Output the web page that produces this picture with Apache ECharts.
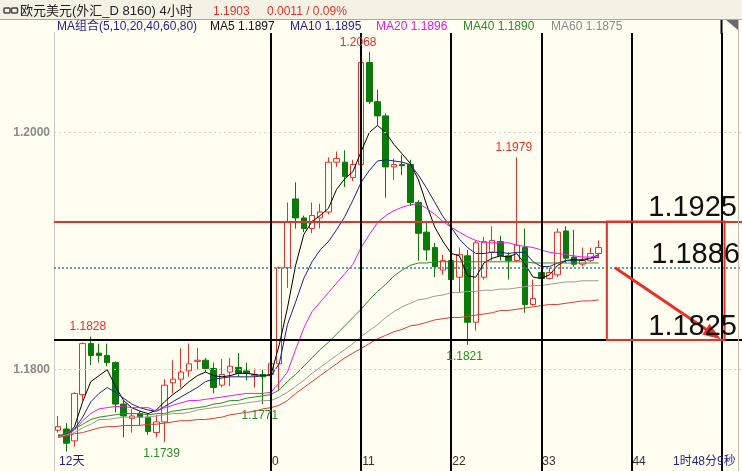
<!DOCTYPE html>
<html><head><meta charset="utf-8">
<script src="https://cdn.jsdelivr.net/npm/echarts@6/dist/echarts.min.js"></script>
<style>html,body{margin:0;padding:0;background:#FFFEF0;}#c{width:742px;height:471px;}</style>
</head><body><div id="c"></div><script>
// ---- data ----
const categories = [];
for (let i = -26; i <= 57; i++) categories.push(String(i));
const tickPositions = ['-26', '0', '11', '22', '33', '44'];
const tickTexts = ['12天', '0', '11', '22', '33', '44'];
const separators = ['0', '11', '22', '33', '44', '55'];
const yTickValues = [1.18, 1.2];

const openP = [1.1749,1.1750,1.1740,1.1779,1.1822,1.1814,1.1812,1.1806,1.1771,1.1759,1.1763,1.1760,1.1747,1.1756,1.1789,1.1792,1.1799,1.1807,1.1808,1.1801,1.1787,1.1798,1.1802,1.1799,1.1795,1.1796,
 1.1796,1.1805,1.1886,1.1944,1.1928,1.1919,1.1928,1.1933,1.1975,1.1975,1.1962,1.1973,1.2059,1.2026,1.2014,1.1971,1.1973,1.1973,1.1941,1.1916,1.1903,1.1884,1.1892,1.1878,1.1896,1.1840,1.1878,1.1899,1.1908,1.1896,1.1892,1.1903,1.1855,1.1882,1.1877,1.1880,1.1917,1.1895,1.1889,1.1892,1.1898];
const closeP = [1.1752,1.1738,1.1780,1.1822,1.1812,1.1812,1.1806,1.1771,1.1761,1.1761,1.1760,1.1748,1.1756,1.1787,1.1792,1.1798,1.1805,1.1808,1.1801,1.1785,1.1796,1.1803,1.1797,1.1797,1.1796,1.1794,
 1.1805,1.1886,1.1925,1.1928,1.1919,1.1930,1.1933,1.1975,1.1978,1.1963,1.1973,1.2059,1.2026,1.2014,1.1971,1.1973,1.1972,1.1941,1.1915,1.1901,1.1887,1.1892,1.1876,1.1897,1.1840,1.1907,1.1908,1.1909,1.1896,1.1892,1.1905,1.1855,1.1860,1.1877,1.1882,1.1916,1.1894,1.1889,1.1892,1.1898,1.1903];
const lowP = [1.1747,1.1731,1.1735,1.1774,1.1804,1.1806,1.1803,1.1764,1.1743,1.1747,1.1753,1.1745,1.1743,1.1739,1.1780,1.1785,1.1794,1.1800,1.1798,1.1780,1.1785,1.1786,1.1794,1.1791,1.1785,1.1771,
 1.1791,1.1783,1.1869,1.1919,1.1916,1.1915,1.1919,1.1931,1.1971,1.1954,1.1959,1.1971,1.2024,1.2006,1.1945,1.1960,1.1964,1.1938,1.1892,1.1892,1.1878,1.1880,1.1875,1.1865,1.1821,1.1833,1.1876,1.1892,1.1892,1.1876,1.1891,1.1848,1.1854,1.1876,1.1876,1.1878,1.1890,1.1887,1.1887,1.1891,1.1894];
const highP = [1.1761,1.1755,1.1781,1.1823,1.1828,1.1822,1.1822,1.1807,1.1774,1.1767,1.1765,1.1763,1.1762,1.1792,1.1808,1.1818,1.1822,1.1818,1.1810,1.1806,1.1809,1.1810,1.1814,1.1806,1.1801,1.1800,
 1.1806,1.1887,1.1941,1.1958,1.1930,1.1941,1.1940,1.1979,1.1984,1.1985,1.1977,1.2063,1.2068,1.2036,1.2016,1.1978,1.1981,1.1977,1.1943,1.1924,1.1907,1.1897,1.1897,1.1903,1.1901,1.1909,1.1912,1.1921,1.1913,1.1899,1.1979,1.1919,1.1876,1.1884,1.1886,1.1919,1.1921,1.1918,1.1903,1.1903,1.1909];

const ma5 = [1.1745,1.1744,1.1752,1.1773,1.1790,1.1795,1.1800,1.1786,1.1774,1.1768,1.1765,1.1763,1.1766,1.1773,1.1779,1.1784,1.1790,1.1795,1.1798,1.1795,1.1794,1.1795,1.1797,1.1797,1.1796,1.1795,
 1.1796,1.1821,1.1852,1.1888,1.1914,1.1925,1.1930,1.1936,1.1952,1.1961,1.1967,1.1984,1.2000,1.2006,1.2000,1.1990,1.1982,1.1974,1.1960,1.1939,1.1920,1.1908,1.1898,1.1896,1.1879,1.1878,1.1890,1.1894,1.1896,1.1895,1.1898,1.1889,1.1878,1.1877,1.1880,1.1888,1.1892,1.1893,1.1892,1.1894,1.1897];
const ma10 = [1.1744,1.1745,1.1750,1.1760,1.1773,1.1780,1.1785,1.1781,1.1776,1.1771,1.1768,1.1766,1.1765,1.1769,1.1773,1.1777,1.1781,1.1785,1.1790,1.1792,1.1793,1.1794,1.1794,1.1794,1.1794,1.1795,
 1.1795,1.1805,1.1838,1.1857,1.1877,1.1891,1.1901,1.1908,1.1918,1.1929,1.1943,1.1958,1.1968,1.1976,1.1977,1.1976,1.1975,1.1973,1.1964,1.1953,1.1941,1.1929,1.1920,1.1910,1.1903,1.1898,1.1898,1.1899,1.1899,1.1898,1.1899,1.1899,1.1891,1.1887,1.1887,1.1890,1.1892,1.1892,1.1893,1.1894,1.1895];
const ma20 = [1.1744,1.1745,1.1749,1.1757,1.1763,1.1767,1.1768,1.1769,1.1769,1.1768,1.1768,1.1768,1.1765,1.1768,1.1770,1.1772,1.1774,1.1774,1.1775,1.1776,1.1777,1.1778,1.1779,1.1780,1.1780,1.1780,
 1.1781,1.1789,1.1798,1.1817,1.1835,1.1849,1.1857,1.1865,1.1873,1.1881,1.1889,1.1903,1.1914,1.1924,1.1930,1.1934,1.1937,1.1939,1.1940,1.1936,1.1931,1.1925,1.1920,1.1916,1.1912,1.1909,1.1907,1.1907,1.1907,1.1907,1.1905,1.1904,1.1903,1.1901,1.1899,1.1898,1.1897,1.1896,1.1895,1.1895,1.1896];
const ma40 = [1.1744,1.1747,1.1750,1.1754,1.1758,1.1760,1.1761,1.1762,1.1763,1.1763,1.1763,1.1762,1.1763,1.1763,1.1765,1.1766,1.1767,1.1768,1.1769,1.1771,1.1772,1.1774,1.1774,1.1776,1.1777,1.1778,
 1.1779,1.1783,1.1790,1.1796,1.1803,1.1810,1.1817,1.1823,1.1830,1.1837,1.1844,1.1851,1.1859,1.1866,1.1872,1.1879,1.1884,1.1888,1.1890,1.1890,1.1891,1.1891,1.1891,1.1891,1.1891,1.1891,1.1891,1.1891,1.1891,1.1891,1.1891,1.1891,1.1890,1.1890,1.1890,1.1890,1.1890,1.1890,1.1890,1.1890,1.1890];
const ma60 = [1.1743,1.1745,1.1747,1.1751,1.1754,1.1758,1.1758,1.1759,1.1760,1.1760,1.1760,1.1760,1.1761,1.1762,1.1763,1.1763,1.1764,1.1766,1.1767,1.1768,1.1769,1.1770,1.1771,1.1772,1.1773,1.1774,
 1.1774,1.1777,1.1781,1.1786,1.1791,1.1797,1.1802,1.1807,1.1812,1.1817,1.1822,1.1828,1.1833,1.1838,1.1844,1.1849,1.1853,1.1856,1.1859,1.1860,1.1862,1.1863,1.1865,1.1865,1.1866,1.1866,1.1867,1.1867,1.1868,1.1868,1.1869,1.1870,1.1871,1.1871,1.1872,1.1873,1.1874,1.1874,1.1875,1.1875,1.1875];
const ma80 = [1.1743,1.1744,1.1746,1.1747,1.1749,1.1751,1.1752,1.1752,1.1753,1.1753,1.1753,1.1754,1.1754,1.1755,1.1756,1.1757,1.1757,1.1758,1.1758,1.1759,1.1760,1.1762,1.1763,1.1764,1.1765,1.1767,
 1.1768,1.1770,1.1774,1.1780,1.1785,1.1790,1.1795,1.1800,1.1805,1.1810,1.1814,1.1818,1.1822,1.1826,1.1829,1.1832,1.1834,1.1837,1.1838,1.1840,1.1842,1.1843,1.1844,1.1844,1.1845,1.1846,1.1847,1.1848,1.1850,1.1850,1.1851,1.1852,1.1853,1.1854,1.1855,1.1855,1.1856,1.1857,1.1858,1.1858,1.1859];

const peakLabels = [
  { at: '-22', value: 1.1828, high: true },
  { at: '11', value: 1.2068, high: true },
  { at: '30', value: 1.1979, high: true },
  { at: '24', value: 1.1821, high: false },
  { at: '-13', value: 1.1739, high: false },
  { at: '-1', value: 1.1771, high: false }
];
const levels = [1.1925, 1.1886, 1.1825];
const legendItems = [
  { text: 'MA组合(5,10,20,40,60,80)', color: '#1f1f8f' },
  { text: 'MA5 1.1897', color: '#111111' },
  { text: 'MA10 1.1895', color: '#1f1f8f' },
  { text: 'MA20 1.1896', color: '#e020e0' },
  { text: 'MA40 1.1890', color: '#2d8a2d' },
  { text: 'MA60 1.1875', color: '#8c8c8c' }
];
const legendX = [57, 210, 290, 376, 463, 551];

// ---- build ----
const RED = '#e8302a', GREEN = '#0b7a0b';
const kData = openP.map((o, k) => [o, closeP[k], lowP[k], highP[k]]);
const labelMap = {};
tickPositions.forEach((p, k) => labelMap[p] = tickTexts[k]);

const chart = echarts.init(document.getElementById('c'), null, { renderer: 'canvas' });
const FONT = '"Liberation Sans", Arial, "Noto Sans CJK SC", sans-serif';

function maSeries(name, data, color, extra) {
  return Object.assign({ name, type: 'line', data, showSymbol: false, symbol: 'none', z: 3,
    lineStyle: { width: 1, color }, silent: true, animation: false }, extra || {});
}

const guideLines = {
  silent: true, symbol: ['none', 'none'], animation: false, label: { show: false }, precision: 4,
  data: [
    { yAxis: yTickValues[1], lineStyle: { color: '#cfcfcf', width: 1, type: [2, 3] } },
    { yAxis: yTickValues[0], lineStyle: { color: '#cfcfcf', width: 1, type: [2, 3] } },
    { yAxis: levels[1], lineStyle: { color: '#2a8a8a', width: 1.5, type: [2, 2] } },
    { yAxis: levels[0], lineStyle: { color: RED, width: 2, type: 'solid' } },
    { yAxis: levels[2], lineStyle: { color: '#000', width: 2, type: 'solid' } }
  ].concat(separators.map(s => ({ xAxis: s, lineStyle: { color: '#000', width: 2, type: 'solid' } })))
  .concat([[
    { coord: ['42', levels[1]], symbol: 'none', lineStyle: { color: RED, width: 3, type: 'solid' } },
    { coord: ['54', 1.1830], symbol: 'triangle', symbolSize: [13, 18] }
  ]])
};

const option = {
  backgroundColor: '#FFFEF0',
  animation: false,
  textStyle: { fontFamily: FONT },
  grid: { left: 54, right: 0, top: 33, bottom: 0, containLabel: false },
  xAxis: {
    type: 'category', data: categories, boundaryGap: true,
    axisLine: { show: false }, axisTick: { show: false }, splitLine: { show: false },
    axisLabel: {
      inside: true, interval: 0, align: 'left', margin: 3, padding: [0, 0, 0, 1],
      fontSize: 12, fontFamily: FONT,
      formatter: v => labelMap[v] || '',
      color: v => v === '-26' ? '#1f1f8f' : '#333333'
    }
  },
  yAxis: {
    type: 'value', min: 1.17146, max: 1.20839, scale: true,
    splitLine: { show: false },
    axisLine: { show: true, lineStyle: { color: '#c8c8c8', width: 1 } },
    axisTick: { show: false },
    axisLabel: { customValues: yTickValues, formatter: v => v.toFixed(4), color: '#8a8a8a',
      fontWeight: 'bold', fontSize: 12, margin: 4, fontFamily: FONT }
  },
  series: [
    {
      name: 'K', type: 'candlestick', data: kData, barWidth: 6, z: 2,
      itemStyle: { color: 'transparent', color0: GREEN, borderColor: RED, borderColor0: GREEN, borderWidth: 1 },
      markPoint: {
        silent: true, animation: false, symbol: 'circle', symbolSize: 1, precision: 4,
        itemStyle: { color: 'transparent' },
        data: peakLabels.map(p => ({
          coord: [p.at, p.value],
          label: { show: true, position: p.high ? 'top' : 'bottom', distance: p.high ? 3 : 5,
            offset: [-3, 0], formatter: p.value.toFixed(4), fontSize: 12, fontFamily: FONT,
            color: p.high ? RED : '#2d8a2d' }
        }))
      }
    },
    maSeries('MA5', ma5, '#000000', { markLine: guideLines }),
    maSeries('MA10', ma10, '#1f1f8f'),
    maSeries('MA20', ma20, '#e020e0'),
    maSeries('MA40', ma40, '#2d8a2d'),
    maSeries('MA60', ma60, '#9a9a9a'),
    maSeries('MA80', ma80, '#e03a30')
  ]
};
chart.setOption(option);

// ---- overlay graphics (positions from the chart's scales) ----
const pt = (c, v) => chart.convertToPixel({ gridIndex: 0 }, [c, v]);
const boxA = pt('41', levels[0]);
const boxB = pt('55', levels[2]);
const g = [];
// header
g.push({ type: 'rect', shape: { x: 0, y: 0, width: 742, height: 20 }, style: { fill: '#F4F2E4' }, z: 10 });
g.push({ type: 'line', shape: { x1: 0, y1: 19.5, x2: 742, y2: 19.5 }, style: { stroke: '#a9a89c', lineWidth: 1 }, z: 11 });
g.push({ type: 'rect', shape: { x: 4, y: 8, width: 6, height: 5, r: 1 }, style: { fill: 'none', stroke: '#444', lineWidth: 1.5 }, z: 11 });
g.push({ type: 'rect', shape: { x: 11.5, y: 8, width: 6, height: 5, r: 1 }, style: { fill: 'none', stroke: '#444', lineWidth: 1.5 }, z: 11 });
g.push({ type: 'text', x: 20, y: 11, style: { text: '欧元美元(外汇_D 8160) 4小时', fill: '#222', font: '13px ' + FONT, textVerticalAlign: 'middle' }, z: 11 });
g.push({ type: 'text', x: 213, y: 12, style: { text: '1.1903', fill: RED, font: '12px ' + FONT, textVerticalAlign: 'middle' }, z: 11 });
g.push({ type: 'text', x: 267, y: 12, style: { text: '0.0011 / 0.09%', fill: RED, font: '12px ' + FONT, textVerticalAlign: 'middle' }, z: 11 });
// legend row
legendItems.forEach((it, k) => {
  g.push({ type: 'text', x: legendX[k], y: 27, style: { text: it.text, fill: it.color, font: '12px ' + FONT, textVerticalAlign: 'middle' }, z: 11 });
});
// right frame
g.push({ type: 'line', shape: { x1: boxB[0], y1: 20, x2: boxB[0], y2: 34 }, style: { stroke: '#000', lineWidth: 2 }, z: 11 });
g.push({ type: 'polygon', shape: { points: [[726, 20], [738, 20], [738, 30]] }, style: { fill: '#6a6a6a' }, z: 11 });
g.push({ type: 'line', shape: { x1: 738.5, y1: 20, x2: 738.5, y2: 471 }, style: { stroke: '#bdbdb5', lineWidth: 1 }, z: 11 });
// red box
g.push({ type: 'rect', shape: { x: boxA[0], y: boxA[1], width: boxB[0] + 3 - boxA[0], height: boxB[1] - boxA[1] },
  style: { fill: 'none', stroke: RED, lineWidth: 2 }, z: 12 });
// big level texts
const levelX = [737, 740, 737];
levels.forEach((lv, k) => {
  const p = pt('0', lv);
  g.push({ type: 'text', x: levelX[k], y: p[1] - 13, style: { text: lv.toFixed(4), fill: '#111', font: '29px ' + FONT,
    textAlign: 'right', textVerticalAlign: 'middle' }, z: 13 });
});
// countdown
g.push({ type: 'text', x: 673, y: 462, style: { text: '1时48分9秒', fill: '#1f1f8f', font: '12px ' + FONT, textVerticalAlign: 'middle' }, z: 11 });
chart.setOption({ graphic: g });
</script></body></html>
